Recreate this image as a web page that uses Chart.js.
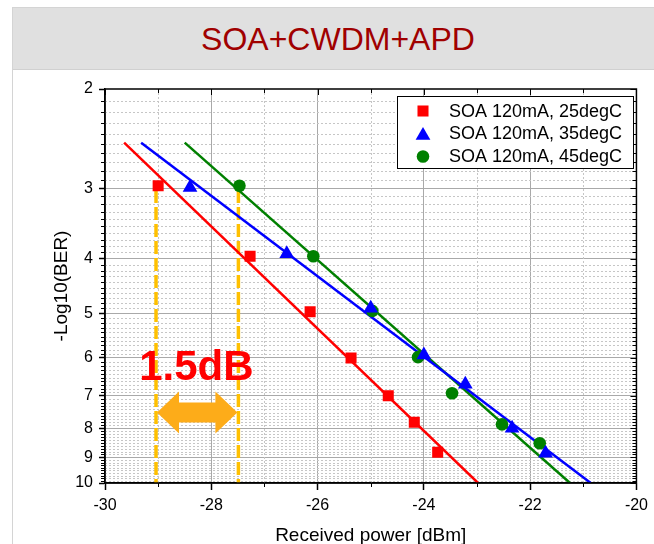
<!DOCTYPE html>
<html>
<head>
<meta charset="utf-8">
<script src="https://cdn.jsdelivr.net/npm/chart.js@4.4.1/dist/chart.umd.min.js"></script>
<style>
  html, body { margin: 0; padding: 0; background: #fff; overflow: hidden; }
  body { width: 654px; height: 544px; position: relative; font-family: "Liberation Sans", Arial, sans-serif; }
  .card { position: absolute; left: 12px; top: 7px; width: 650px; height: 600px; border: 1px solid #d4d4d4; }
  .card-head { height: 61px; background: #e0e0e0; border-bottom: 1px solid #d0d0d0; text-align: center; color: #a00000; font-size: 32px; line-height: 63px; }
  #plot { position: absolute; left: 0; top: 0; }
</style>
</head>
<body>
<div class="card"><div class="card-head">SOA+CWDM+APD</div></div>
<canvas id="plot" width="654" height="560"></canvas>
<script>
// axes
const xTicks = [-30, -28, -26, -24, -22, -20];
const yTicks = [2, 3, 4, 5, 6, 7, 8, 9, 10];

// measured points: received power [dBm] and -log10(BER)
const seriesNames = ["SOA 120mA, 25degC", "SOA 120mA, 35degC", "SOA 120mA, 45degC"];
const power25 = [-29.0, -27.27, -26.14, -25.37, -24.67, -24.18, -23.74];
const ber25   = [2.97, 3.96, 4.97, 6.0, 7.0, 7.8, 8.82];
const power35 = [-28.4, -26.58, -25.0, -24.0, -23.22, -22.34, -21.71];
const ber35   = [2.99, 3.92, 4.9, 5.93, 6.68, 8.0, 8.86];
const power45 = [-27.47, -26.08, -24.97, -24.11, -23.47, -22.53, -21.82];
const ber45   = [2.97, 3.96, 4.95, 5.98, 6.93, 7.87, 8.5];

// fitted lines (end points)
const fitPower25 = [-29.64, -22.98];
const fitBer25   = [2.49, 10];
const fitPower35 = [-29.32, -20.86];
const fitBer35   = [2.49, 10];
const fitPower45 = [-28.5, -21.25];
const fitBer45   = [2.49, 10];

// 1.5 dB penalty marker
const markPower = [-29.04, -27.49];
const markBer   = [3.02, 10];
const arrowBer = 7.5;
const labelText = "1.5dB";
const labelPower = -28.28;
const labelBer = 6.57;

const FONT = '"Liberation Sans", Arial, sans-serif';
Chart.defaults.font.family = FONT;

const pts = (xs, ys) => xs.map((v, i) => ({ x: v, y: ys[i] }));

const red = "#ff0000", blue = "#0000ff", green = "#008000";
const markers = [
  { style: "rect", radius: 7.8, color: red },
  { style: "triangle", radius: 8.5, color: blue },
  { style: "circle", radius: 6.3, color: green }
];

function scatterSet(i, xs, ys) {
  return {
    label: seriesNames[i],
    data: pts(xs, ys),
    showLine: false,
    pointStyle: markers[i].style,
    pointRadius: markers[i].radius,
    pointBackgroundColor: markers[i].color,
    pointBorderColor: markers[i].color,
    pointBorderWidth: 0,
    order: 1
  };
}

function lineSet(xs, ys, color, width, dash) {
  return {
    data: pts(xs, ys),
    showLine: true,
    borderColor: color,
    borderWidth: width,
    borderDash: dash || [],
    pointRadius: 0,
    fill: false,
    order: 2
  };
}

const datasets = [
  scatterSet(0, power25, ber25),
  scatterSet(1, power35, ber35),
  scatterSet(2, power45, ber45),
  lineSet(fitPower25, fitBer25, red, 2.5),
  lineSet(fitPower35, fitBer35, blue, 2.5),
  lineSet(fitPower45, fitBer45, green, 2.5),
  lineSet([markPower[0], markPower[0]], markBer, "#ffc000", 3.5, [13, 4]),
  lineSet([markPower[1], markPower[1]], markBer, "#ffc000", 3.5, [13, 4])
];

// minor grid + ticks, frame, arrow, label, legend
const extras = {
  id: "extras",
  beforeDatasetsDraw(chart) {
    const { ctx, chartArea: a, scales: { x, y } } = chart;
    ctx.save();
    ctx.strokeStyle = "#c6c6c6";
    ctx.lineWidth = 1;
    ctx.setLineDash([2, 2]);
    ctx.beginPath();
    for (let k = 21; k < 100; k++) {
      if (k % 10 === 0) continue;
      const py = Math.round(y.getPixelForValue(k / 10)) + 0.5;
      ctx.moveTo(a.left, py); ctx.lineTo(a.right, py);
    }
    for (let v = -29; v < -20; v += 2) {
      const px = Math.round(x.getPixelForValue(v)) + 0.5;
      ctx.moveTo(px, a.top); ctx.lineTo(px, a.bottom);
    }
    ctx.stroke();
    ctx.restore();
  },
  afterDraw(chart) {
    const { ctx, chartArea: a, scales: { x, y } } = chart;
    ctx.save();
    // ticks
    ctx.strokeStyle = "#000";
    ctx.lineWidth = 1;
    ctx.beginPath();
    for (let k = 20; k <= 100; k++) {
      const py = Math.round(y.getPixelForValue(k / 10)) + 0.5;
      const len = k % 10 === 0 ? 6 : 4;
      if (k % 10 !== 0) { ctx.moveTo(a.left - 4, py); ctx.lineTo(a.left, py); }
      ctx.moveTo(a.right - len, py); ctx.lineTo(a.right, py);
    }
    for (let v = -30; v <= -20; v++) {
      const px = Math.round(x.getPixelForValue(v)) + 0.5;
      const len = v % 2 === 0 ? 6 : 4;
      if (v % 2 !== 0) { ctx.moveTo(px, a.bottom); ctx.lineTo(px, a.bottom + 4); }
      ctx.moveTo(px, a.top); ctx.lineTo(px, a.top + len);
    }
    ctx.stroke();
    ctx.lineWidth = 1.5;
    ctx.strokeRect(a.left, a.top, a.right - a.left, a.bottom - a.top);

    // double arrow
    const x0 = x.getPixelForValue(markPower[0]) + 1, x1 = x.getPixelForValue(markPower[1]) - 1;
    const yc = y.getPixelForValue(arrowBer);
    const head = 22, hh = 21, sh = 10;
    ctx.fillStyle = "#fdac19";
    ctx.beginPath();
    ctx.moveTo(x0, yc);
    ctx.lineTo(x0 + head, yc - hh);
    ctx.lineTo(x0 + head, yc - sh);
    ctx.lineTo(x1 - head, yc - sh);
    ctx.lineTo(x1 - head, yc - hh);
    ctx.lineTo(x1, yc);
    ctx.lineTo(x1 - head, yc + hh);
    ctx.lineTo(x1 - head, yc + sh);
    ctx.lineTo(x0 + head, yc + sh);
    ctx.lineTo(x0 + head, yc + hh);
    ctx.closePath();
    ctx.fill();

    // 1.5dB label
    ctx.fillStyle = "#ff0000";
    ctx.font = "bold 42px " + FONT;
    ctx.textAlign = "center";
    ctx.textBaseline = "alphabetic";
    ctx.fillText(labelText, x.getPixelForValue(labelPower), y.getPixelForValue(labelBer));

    // legend
    const L = 397, T = 96, R = 633, B = 168;
    ctx.fillStyle = "#fff";
    ctx.fillRect(L, T, R - L, B - T);
    ctx.strokeStyle = "#000";
    ctx.lineWidth = 1;
    ctx.strokeRect(L + 0.5, T + 0.5, R - L, B - T);
    ctx.font = "18px " + FONT;
    ctx.textAlign = "left";
    ctx.textBaseline = "middle";
    const rowsY = [111, 133.5, 156.5];
    seriesNames.forEach((name, i) => {
      const m = markers[i];
      const my = m.style === "triangle" ? rowsY[i] + 2 : rowsY[i];
      ctx.fillStyle = m.color;
      ctx.strokeStyle = m.color;
      Chart.helpers.drawPoint(ctx, { pointStyle: m.style, radius: m.radius, rotation: 0, borderWidth: 0 }, 423, my);
      ctx.fillStyle = "#000";
      ctx.fillText(name, 449, rowsY[i] + 1);
    });
    ctx.restore();
  }
};

const gridColor = (ends) => (c) => ends.includes(c.tick.value) ? "rgba(0,0,0,0)" : "#a9a9a9";

new Chart(document.getElementById("plot"), {
  type: "scatter",
  data: { datasets },
  options: {
    responsive: false,
    animation: false,
    layout: { padding: { left: 0, right: 16, top: 89, bottom: 0 } },
    plugins: { legend: { display: false }, tooltip: { enabled: false } },
    scales: {
      x: {
        type: "linear",
        min: -30, max: -20,
        afterBuildTicks: (s) => { s.ticks = xTicks.map((v) => ({ value: v })); },
        afterFit: (s) => { s.height = 77; },
        ticks: { color: "#000", font: { size: 16 }, padding: 6, callback: (v) => String(v) },
        grid: { color: gridColor([-30, -20]), lineWidth: 1, tickLength: 7, tickColor: "#000", tickWidth: 1.5 },
        border: { color: "#000", width: 1.5 },
        title: { display: true, text: "Received power [dBm]", color: "#000", font: { size: 19 }, padding: { top: 0, bottom: 13 } }
      },
      y: {
        type: "logarithmic",
        reverse: true,
        min: 2, max: 10,
        afterBuildTicks: (s) => { s.ticks = yTicks.map((v) => ({ value: v })); },
        afterFit: (s) => { s.width = 105; },
        ticks: { color: "#000", font: { size: 16 }, padding: 6, autoSkip: false, callback: (v) => String(v) },
        grid: { color: gridColor([2, 10]), lineWidth: 1, tickLength: 6, tickColor: "#000", tickWidth: 1.5 },
        border: { color: "#000", width: 1.5 },
        title: { display: true, text: "-Log10(BER)", color: "#000", font: { size: 19 }, padding: { top: 50, bottom: 0 } }
      }
    }
  },
  plugins: [extras]
});
</script>
</body>
</html>
